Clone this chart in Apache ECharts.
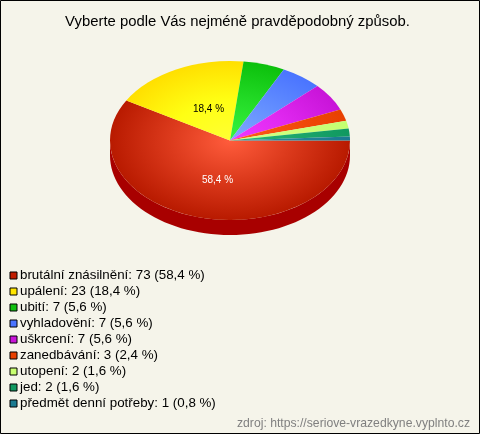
<!DOCTYPE html>
<html><head><meta charset="utf-8">
<style>html,body{margin:0;padding:0;background:#f5f4ea}#c{width:480px;height:434px}</style>
<script src="https://cdn.jsdelivr.net/npm/echarts@6/dist/echarts.min.js"></script>
</head><body><div id="c"></div>
<script>
const chartTitle = 'Vyberte podle Vás nejméně pravděpodobný způsob.';
const sourceNote = 'zdroj: https://seriove-vrazedkyne.vyplnto.cz';
const categories = ['brutální znásilnění','upálení','ubití','vyhladovění','uškrcení','zanedbávání','utopení','jed','předmět denní potřeby'];
const counts = [73,23,7,7,7,3,2,2,1];
const percents = ['58,4','18,4','5,6','5,6','5,6','2,4','1,6','1,6','0,8'];
const legendColors = ['#c01c00','#ffe600','#10c010','#4a74ff','#c814d8','#e84000','#c8ff70','#109860','#1a7a90'];
const innerColors = ['#ff5c3c','#ffff33','#38f540','#80a8ff','#f038ff','#ff5c1c','#d0ff88','#28b878','#2c90a8'];
const midColors = ['#dc3a1c','#ffff14','#24dc28','#6490ff','#e028f0','#f44c0c','#ccff7c','#1ca86c','#22849c'];
const outerColors = ['#b81a00','#ffdf00','#0cc00c','#4a74ff','#c814d8','#e84000','#c4ff70','#109860','#1a7a90'];
const sideColor = ['#a80000','#c0a800','#0a8a0a','#3050c0','#900c9c','#a83000','#90c050','#0a6c44','#105868'];
const labelledSlices = {0:'#ffffff',1:'#000000'};

const total = counts.reduce((a,b)=>a+b,0);
const CX=230, CY=140.5, R=120, SQ=0.6625, DEPTH=15;
let acc=0;
const spans = counts.map(v=>{const s=acc/total*2*Math.PI; acc+=v; return [s,acc/total*2*Math.PI];});

function sideItem(i){
  return function(){
    const [s,e]=spans[i];
    const a=s, b=Math.min(e,Math.PI);
    if(a>=Math.PI) return {type:'group',children:[]};
    const pts=[];
    const n=60;
    for(let k=0;k<=n;k++){const t=a+(b-a)*k/n;pts.push([CX+R*Math.cos(t),CY+R*SQ*Math.sin(t)]);}
    for(let k=n;k>=0;k--){const t=a+(b-a)*k/n;pts.push([CX+R*Math.cos(t),CY+DEPTH+R*SQ*Math.sin(t)]);}
    return {type:'polygon',shape:{points:pts},style:{fill:sideColor[i]},silent:true};
  };
}
function topItem(i){
  return function(){
    const [s,e]=spans[i];
    const children=[{
      type:'group',x:CX,y:CY,scaleY:SQ,
      children:[{type:'sector',
        shape:{cx:0,cy:0,r:R,r0:0,startAngle:s,endAngle:e,clockwise:true},
        style:{fill:new echarts.graphic.RadialGradient(0,0,R,[{offset:0,color:innerColors[i]},{offset:0.5,color:midColors[i]},{offset:1,color:outerColors[i]}],true)},
        silent:true}]
    }];
    if(labelledSlices[i]){
      const m=(s+e)/2;
      children.push({type:'text',x:CX+R*0.4*Math.cos(m),y:CY+2.5+R*SQ*0.48*Math.sin(m),
        style:{text:percents[i]+' %',fill:labelledSlices[i],font:'10px "Liberation Sans",Arial',align:'center',verticalAlign:'middle'},silent:true});
    }
    return {type:'group',children};
  };
}
const names = categories.map((c,i)=>c+': '+counts[i]+' ('+percents[i]+' %)');
const sideSeries = categories.map((c,i)=>({type:'custom',coordinateSystem:'none',silent:true,z:1,data:[[counts[i]]],renderItem:sideItem(i),animation:false,legendHoverLink:false}));
const topSeries = categories.map((c,i)=>({name:names[i],type:'custom',coordinateSystem:'none',silent:true,z:2,data:[[counts[i]]],renderItem:topItem(i),itemStyle:{color:legendColors[i]},animation:false}));

const chart=echarts.init(document.getElementById('c'),null,{renderer:'canvas'});
chart.setOption({
  animation:false,
  backgroundColor:'#f5f4ea',
  title:[
    {text:chartTitle,left:232.5,top:9,textAlign:'center',textStyle:{fontFamily:'"Liberation Sans",Arial',fontSize:14.87,fontWeight:'normal',color:'#000'}},
    {text:sourceNote,right:5,top:413,textStyle:{fontFamily:'"Liberation Sans",Arial',fontSize:12.2,fontWeight:'normal',color:'#808080'}}
  ],
  legend:{
    orient:'vertical',left:5.5,top:265,padding:[4,4],itemWidth:7,itemHeight:7,itemGap:3,
    icon:'rect',selectedMode:false,
    data:names.map((n,i)=>({name:n,icon:'rect',itemStyle:{color:legendColors[i],borderColor:'#000',borderWidth:1}})),
    textStyle:{fontFamily:'"Liberation Sans",Arial',fontSize:13.35,color:'#000',padding:[0,0,0,-2],lineHeight:13}
  },
  graphic:[{type:'rect',silent:true,z:100,shape:{x:0.5,y:0.5,width:479,height:433},style:{fill:'none',stroke:'#000',lineWidth:1}}],
  series:sideSeries.concat(topSeries)
});
</script></body></html>
